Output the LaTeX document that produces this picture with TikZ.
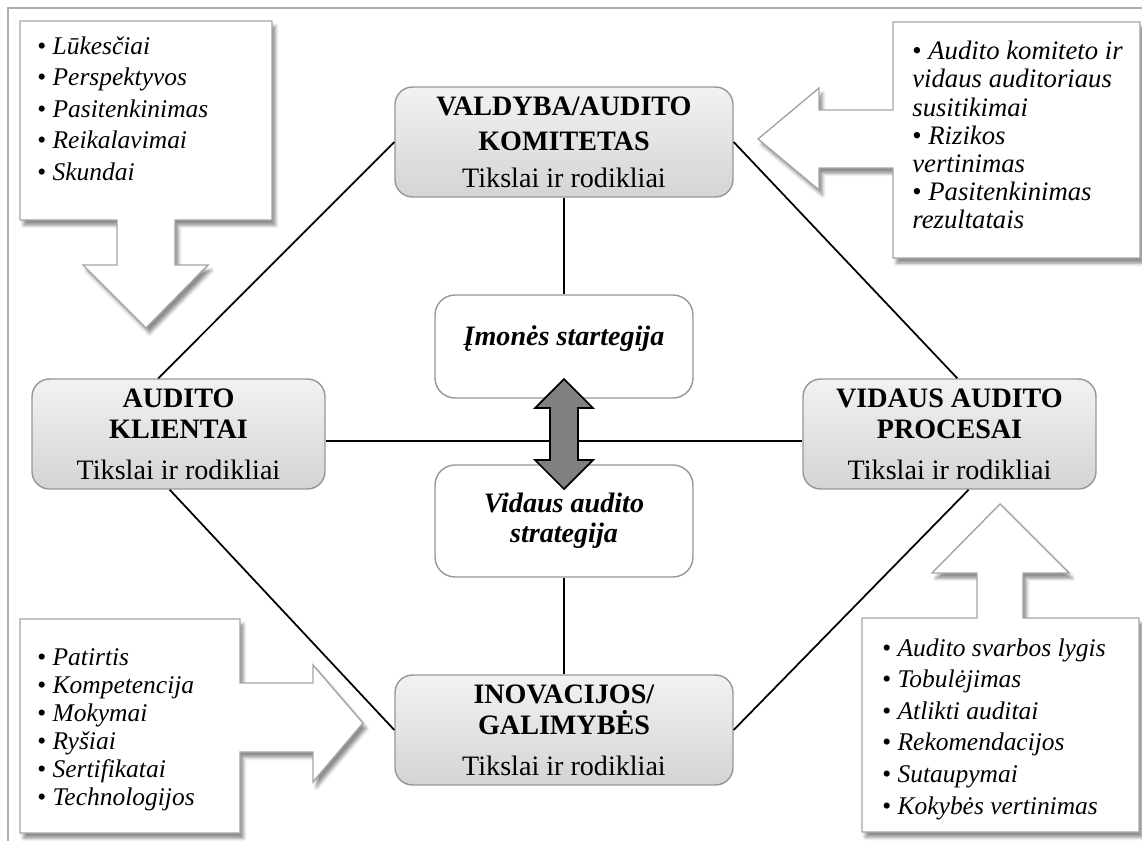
\documentclass[tikz,border=0pt]{standalone}
\usepackage{fontspec}
\setmainfont{Liberation Serif}
\usepackage{tikz}
\usetikzlibrary{positioning,shadows,shadows.blur,calc}
\definecolor{BoxTop}{RGB}{242,242,242}
\definecolor{BoxBottom}{RGB}{212,212,212}
\definecolor{BoxEdge}{RGB}{150,150,150}
\definecolor{CallEdge}{RGB}{165,165,165}
\definecolor{ArrowGray}{RGB}{128,128,128}
\definecolor{FrameGray}{RGB}{175,175,175}
\newcommand{\itm}{{\upshape\textbullet}\ }
\tikzset{
    mainbox/.style={draw=BoxEdge, thick, rounded corners=0.35cm, top color=BoxTop, bottom color=BoxBottom, minimum width=6.76cm, minimum height=2.2cm, align=center, font=\fontsize{16}{18}\selectfont},
    sidebox/.style={mainbox, minimum width=5.86cm},
    stratbox/.style={draw=BoxEdge, thick, rounded corners=0.4cm, fill=white, minimum width=5.16cm, align=center, font=\fontsize{16}{17}\selectfont\bfseries\itshape},
    callout/.style={draw=CallEdge, fill=white, line width=0.8pt, blur shadow={shadow xshift=2pt, shadow yshift=-3pt, shadow opacity=45}},
    listtext/.style={anchor=north west, inner sep=0pt, align=left, font=\fontsize{14.5}{18}\selectfont\itshape},
    link/.style={line width=1pt, black},
    bothway/.style={fill=ArrowGray, draw=black, line width=1pt, line join=miter},
}

\begin{document}
\begin{tikzpicture}[x=0.02cm, y=-0.02cm]
\useasboundingbox (0,0) rectangle (1142,841);
\draw[FrameGray, line width=1pt] (8,841) -- (8,8) -- (1142,8);

\draw[callout] (20,21) -- (272,21) -- (272,220) -- (175,220) -- (175,265) -- (208,265) -- (146,328) -- (83,265) -- (117,265) -- (117,220) -- (20,220) -- cycle;
\draw[callout] (893,22) -- (1140,22) -- (1140,258) -- (893,258) -- (893,168) -- (819,168) -- (819,190) -- (758,139) -- (819,88) -- (819,110) -- (893,110) -- cycle;
\draw[callout] (20,619) -- (240,619) -- (240,683) -- (313,683) -- (313,665) -- (363,723) -- (313,782) -- (313,752) -- (240,752) -- (240,833) -- (20,833) -- cycle;
\draw[callout] (862,618) -- (977,618) -- (977,573) -- (932,573) -- (1000,504) -- (1069,573) -- (1023,573) -- (1023,618) -- (1139,618) -- (1139,832) -- (862,832) -- cycle;

\node[listtext] (clientlist) at (37,36) {\itm Lūkesčiai\\\itm Perspektyvos\\\itm Pasitenkinimas\\\itm Reikalavimai\\\itm Skundai};
\node[listtext, font=\fontsize{15.2}{16}\selectfont\itshape] (boardlist) at (912,41) {\itm Audito komiteto ir\\vidaus auditoriaus\\susitikimai\\\itm Rizikos\\vertinimas\\\itm Pasitenkinimas\\rezultatais};
\node[listtext, font=\fontsize{14.5}{16}\selectfont\itshape] (learnlist) at (37,648) {\itm Patirtis\\\itm Kompetencija\\\itm Mokymai\\\itm Ryšiai\\\itm Sertifikatai\\\itm Technologijos};
\node[listtext] (processlist) at (882,638) {\itm Audito svarbos lygis\\\itm Tobulėjimas\\\itm Atlikti auditai\\\itm Rekomendacijos\\\itm Sutaupymai\\\itm Kokybės vertinimas};

\node[mainbox] (valdyba) at (564,142) {\textbf{VALDYBA/AUDITO}\\[2pt]\textbf{KOMITETAS}\\[3pt]Tikslai ir rodikliai};
\node[sidebox] (klientai) at (178.5,434) {\textbf{AUDITO}\\\textbf{KLIENTAI}\\[5pt]Tikslai ir rodikliai};
\node[sidebox] (procesai) at (949.5,434) {\textbf{VIDAUS AUDITO}\\\textbf{PROCESAI}\\[5pt]Tikslai ir rodikliai};
\node[mainbox] (inovacijos) at (564,730) {\textbf{INOVACIJOS/}\\\textbf{GALIMYBĖS}\\[5pt]Tikslai ir rodikliai};
\node[stratbox, minimum height=2.06cm, text depth=0.42cm] (imones) at (564,346.5) {Įmonės startegija};
\node[stratbox, minimum height=2.24cm] (vidstrat) at (564,521) {Vidaus audito\\strategija};

\draw[link] (valdyba.west) -- (klientai.110);
\draw[link] (valdyba.east) -- (procesai.82);
\draw[link] (klientai.261) -- (inovacijos.west);
\draw[link] (procesai.-71) -- (inovacijos.east);
\draw[link] (valdyba.south) -- (imones.north);
\draw[link] (vidstrat.south) -- (inovacijos.north);
\draw[link] ([yshift=-4]klientai.east) -- ([yshift=-4]procesai.west);

\draw[bothway] (564,379) -- (593,408) -- (578,408) -- (578,460) -- (593,460) -- (564,489) -- (535,460) -- (550,460) -- (550,408) -- (535,408) -- cycle;
\end{tikzpicture}
\end{document}
